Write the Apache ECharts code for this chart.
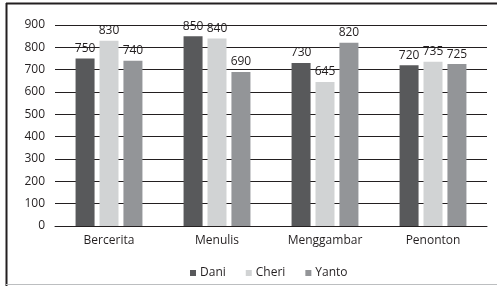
<!DOCTYPE html>
<html><head><meta charset="utf-8">
<script src="https://cdn.jsdelivr.net/npm/echarts@6/dist/echarts.min.js"></script>
<style>html,body{margin:0;padding:0;background:#fff;}#c{width:497px;height:286px;}</style>
</head><body><div id="c"></div>
<script>
const categories = ['Bercerita', 'Menulis', 'Menggambar', 'Penonton'];
const dani = [750, 850, 730, 720];
const cheri = [830, 840, 645, 735];
const yanto = [740, 690, 820, 725];
const yTicks = { min: 0, max: 900, interval: 100 };

const font = '"Open Sans", sans-serif';
const txt = '#231f20';
const chart = echarts.init(document.getElementById('c'), null, { renderer: 'canvas' });
function ser(name, data, color) {
  return {
    name, type: 'bar', data, barWidth: 19, barGap: '26%',
    itemStyle: { color },
    label: { show: true, position: 'top', distance: 4, color: txt, fontFamily: font, fontSize: 12 }
  };
}
chart.setOption({
  animation: false,
  backgroundColor: '#fff',
  grid: { left: 55, right: 10, top: 25, bottom: 60, containLabel: false },
  xAxis: {
    type: 'category', data: categories,
    axisLine: { show: true, lineStyle: { color: txt, width: 1 } },
    axisTick: { show: false },
    axisLabel: { color: txt, fontFamily: font, fontSize: 12, margin: 9 }
  },
  yAxis: {
    type: 'value', min: yTicks.min, max: yTicks.max, interval: yTicks.interval,
    axisLine: { show: false }, axisTick: { show: false },
    splitLine: { lineStyle: { color: txt, width: 1 } },
    axisLabel: { color: txt, fontFamily: font, fontSize: 12, margin: 10 }
  },
  legend: {
    left: 185, top: 262, itemWidth: 6, itemHeight: 6, itemGap: 20,
    icon: 'rect',
    textStyle: { color: txt, fontFamily: font, fontSize: 12, padding: [0, 0, 0, -1] },
    data: ['Dani', 'Cheri', 'Yanto']
  },
  graphic: [
    { type: 'line', shape: { x1: 6, y1: 3.5, x2: 497, y2: 3.5 }, style: { stroke: '#231f20', lineWidth: 2 } },
    { type: 'line', shape: { x1: 6.5, y1: 3, x2: 6.5, y2: 286 }, style: { stroke: '#231f20', lineWidth: 2 } },
    { type: 'line', shape: { x1: 6, y1: 284.5, x2: 497, y2: 284.5 }, style: { stroke: '#bcbec0', lineWidth: 1 } }
  ],
  series: [ser('Dani', dani, '#58595b'), ser('Cheri', cheri, '#d1d3d4'), ser('Yanto', yanto, '#939598')]
});
</script></body></html>
